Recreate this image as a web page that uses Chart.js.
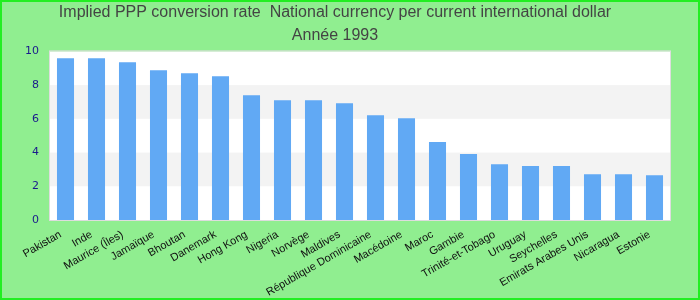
<!DOCTYPE html>
<html>
<head>
<meta charset="utf-8">
<script src="https://cdn.jsdelivr.net/npm/chart.js@4"></script>
<style>
  html, body { margin: 0; padding: 0; background: #90ee90; }
  #wrap { position: relative; width: 700px; height: 300px; }
  #frame { position: absolute; left: 0; top: 0; width: 700px; height: 300px; box-sizing: border-box; border: 2px solid #22ee22; pointer-events: none; }
</style>
</head>
<body>
<div id="wrap">
  <canvas id="chart" width="700" height="300"></canvas>
  <div id="frame"></div>
</div>
<script>
// Data
const countries = ['Pakistan', 'Inde', 'Maurice (Îles)', 'Jamaïque', 'Bhoutan', 'Danemark', 'Hong Kong', 'Nigeria', 'Norvège', 'Maldives',
  'République Dominicaine', 'Macédoine', 'Maroc', 'Gambie', 'Trinité-et-Tobago', 'Uruguay', 'Seychelles', 'Emirats Arabes Unis', 'Nicaragua', 'Estonie'];
const pppRates = [9.59, 9.59, 9.35, 8.88, 8.70, 8.52, 7.40, 7.10, 7.10, 6.92,
  6.21, 6.04, 4.62, 3.91, 3.31, 3.20, 3.20, 2.72, 2.72, 2.66];
const titleLines = ['Implied PPP conversion rate  National currency per current international dollar', 'Année 1993'];

// alternating bands + plot frame
const bandsPlugin = {
  id: 'bands',
  beforeDraw(chart) {
    const { ctx, chartArea: a, scales: { y } } = chart;
    ctx.save();
    ctx.fillStyle = '#ffffff';
    ctx.fillRect(a.left, a.top, a.right - a.left, a.bottom - a.top);
    ctx.fillStyle = '#f3f3f3';
    [[2, 4], [6, 8]].forEach(([lo, hi]) => {
      const yt = y.getPixelForValue(hi), yb = y.getPixelForValue(lo);
      ctx.fillRect(a.left, yt, a.right - a.left, yb - yt);
    });
    ctx.strokeStyle = '#dddddd';
    ctx.lineWidth = 1;
    ctx.strokeRect(a.left - 0.5, a.top - 0.5, a.right - a.left + 1, a.bottom - a.top + 1);
    ctx.restore();
  }
};

new Chart(document.getElementById('chart'), {
  type: 'bar',
  data: {
    labels: countries,
    datasets: [{ data: pppRates, backgroundColor: '#61a9f4', barPercentage: 0.55, categoryPercentage: 1 }]
  },
  options: {
    responsive: false, animation: false,
    layout: { padding: { left: 0, right: 30, top: 0, bottom: 0 } },
    plugins: {
      legend: { display: false },
      tooltip: { enabled: false },
      title: {
        display: true, text: titleLines, color: '#444444',
        font: { family: 'Liberation Sans', size: 16, weight: 'normal', lineHeight: 1.45 },
        padding: { top: 1, bottom: 4 }
      }
    },
    scales: {
      x: {
        grid: { display: false }, border: { display: false },
        afterFit: s => { s.height = 80; },
        ticks: { color: '#111111', font: { family: 'Liberation Sans', size: 11 }, minRotation: 30, maxRotation: 30, autoSkip: false, padding: 0, labelOffset: -5 }
      },
      y: {
        min: 0, max: 10,
        grid: { display: false }, border: { display: false },
        afterFit: s => { s.width = 50; },
        ticks: { stepSize: 2, color: '#1a1a8c', font: { family: 'DejaVu Sans', size: 11 }, padding: 3 }
      }
    }
  },
  plugins: [bandsPlugin]
});
</script>
</body>
</html>
